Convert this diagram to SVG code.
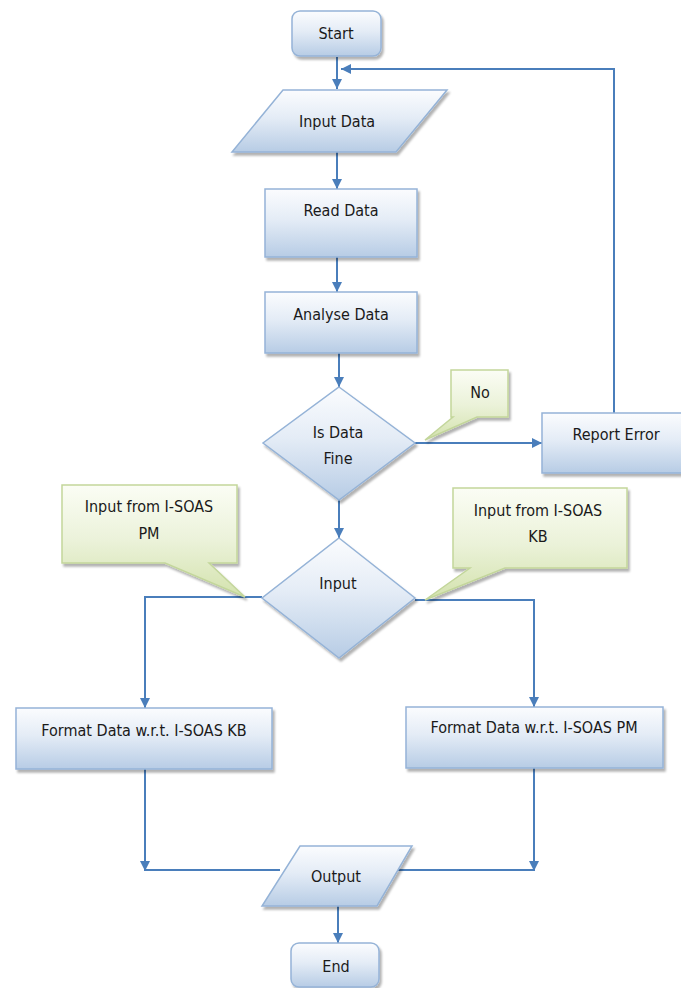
<svg xmlns="http://www.w3.org/2000/svg" width="681" height="988" viewBox="0 0 681 988">
<defs>
<linearGradient id="gBlue" x1="0" y1="0" x2="0" y2="1">
<stop offset="0" stop-color="#fbfcfe"/>
<stop offset="0.45" stop-color="#e4ecf6"/>
<stop offset="1" stop-color="#b7cce5"/>
</linearGradient>
<linearGradient id="gGreen" x1="0" y1="0" x2="0" y2="1">
<stop offset="0" stop-color="#fbfdf5"/>
<stop offset="0.5" stop-color="#ebf2d9"/>
<stop offset="1" stop-color="#d3e2ad"/>
</linearGradient>
<filter id="sh" x="-10%" y="-10%" width="125%" height="130%">
<feDropShadow dx="2" dy="3" stdDeviation="1" flood-color="#000" flood-opacity="0.3"/>
</filter>
<marker id="arr" viewBox="0 0 10 10" refX="10" refY="5" markerWidth="10" markerHeight="10" markerUnits="userSpaceOnUse" orient="auto">
<path d="M0,0 L10,5 L0,10 z" fill="#4a7ebb"/>
</marker>
<style>
.n{fill:url(#gBlue);stroke:#95b3d7;stroke-width:1.5;filter:url(#sh)}
.c{fill:url(#gGreen);stroke:#c3d69b;stroke-width:1.5;filter:url(#sh)}
.t{font-family:"DejaVu Sans Condensed","DejaVu Sans",sans-serif;font-stretch:condensed;font-size:16px;fill:#1a1a1a;text-anchor:middle}
.l{fill:none;stroke:#4a7ebb;stroke-width:2}
</style>
</defs>

<g id="connectors">
<line class="l" x1="337" y1="57" x2="337" y2="89" marker-end="url(#arr)"/>
<polyline class="l" points="614,413 614,69 341,69" marker-end="url(#arr)"/>
<line class="l" x1="337" y1="152" x2="337" y2="189" marker-end="url(#arr)"/>
<line class="l" x1="337" y1="257" x2="337" y2="292" marker-end="url(#arr)"/>
<line class="l" x1="339" y1="353" x2="339" y2="387" marker-end="url(#arr)"/>
<line class="l" x1="415" y1="443" x2="542" y2="443" marker-end="url(#arr)"/>
<line class="l" x1="339" y1="500" x2="339" y2="538" marker-end="url(#arr)"/>
<polyline class="l" points="262,597 145,597 145,708" marker-end="url(#arr)"/>
<polyline class="l" points="415,600 534,600 534,707" marker-end="url(#arr)"/>
<polyline class="l" points="145,769 145,871" marker-end="url(#arr)"/>
<line class="l" x1="145" y1="870" x2="280" y2="870"/>
<polyline class="l" points="534,768 534,871" marker-end="url(#arr)"/>
<line class="l" x1="534" y1="870" x2="398" y2="870"/>
<line class="l" x1="338" y1="906" x2="338" y2="943" marker-end="url(#arr)"/>
</g>

<g id="start">
<rect class="n" x="292" y="11" width="89" height="45" rx="8"/>
<text class="t" x="336" y="39">Start</text>
</g>

<g id="input-data">
<polygon class="n" points="283,90 447,90 396,152 232,152"/>
<text class="t" x="337" y="127">Input Data</text>
</g>

<g id="read-data">
<rect class="n" x="265" y="189" width="152" height="68"/>
<text class="t" x="341" y="216">Read Data</text>
</g>

<g id="analyse-data">
<rect class="n" x="265" y="292" width="152" height="61"/>
<text class="t" x="341" y="320">Analyse Data</text>
</g>

<g id="is-data-fine">
<polygon class="n" points="339,387 415,443 339,500 263,443"/>
<text class="t" x="338" y="438">Is Data</text>
<text class="t" x="338" y="464">Fine</text>
</g>

<g id="callout-no">
<path class="c" d="M451,370 L508,370 L508,417 L477,417 L425,440 L453,417 L451,417 Z"/>
<text class="t" x="480" y="398">No</text>
</g>

<g id="report-error">
<rect class="n" x="542" y="413" width="142" height="60"/>
<text class="t" x="616" y="440">Report Error</text>
</g>

<g id="callout-pm">
<path class="c" d="M62,485 L237,485 L237,563 L209,563 L245,597 L165,563 L62,563 Z"/>
<text class="t" x="149" y="512">Input from I-SOAS</text>
<text class="t" x="149" y="539">PM</text>
</g>

<g id="callout-kb">
<path class="c" d="M453,488 L627,488 L627,568 L505,568 L425,600 L470,568 L453,568 Z"/>
<text class="t" x="538" y="516">Input from I-SOAS</text>
<text class="t" x="538" y="542">KB</text>
</g>

<g id="input">
<polygon class="n" points="339,538 415,598 339,658 262,598"/>
<text class="t" x="338" y="589">Input</text>
</g>

<g id="format-kb">
<rect class="n" x="16" y="708" width="256" height="61"/>
<text class="t" x="144" y="736">Format Data w.r.t. I-SOAS KB</text>
</g>

<g id="format-pm">
<rect class="n" x="406" y="707" width="257" height="61"/>
<text class="t" x="534" y="733">Format Data w.r.t. I-SOAS PM</text>
</g>

<g id="output">
<polygon class="n" points="300,846 412,846 377,906 262,906"/>
<text class="t" x="336" y="882">Output</text>
</g>

<g id="end">
<rect class="n" x="291" y="943" width="88" height="44" rx="8"/>
<text class="t" x="336" y="972">End</text>
</g>
</svg>
